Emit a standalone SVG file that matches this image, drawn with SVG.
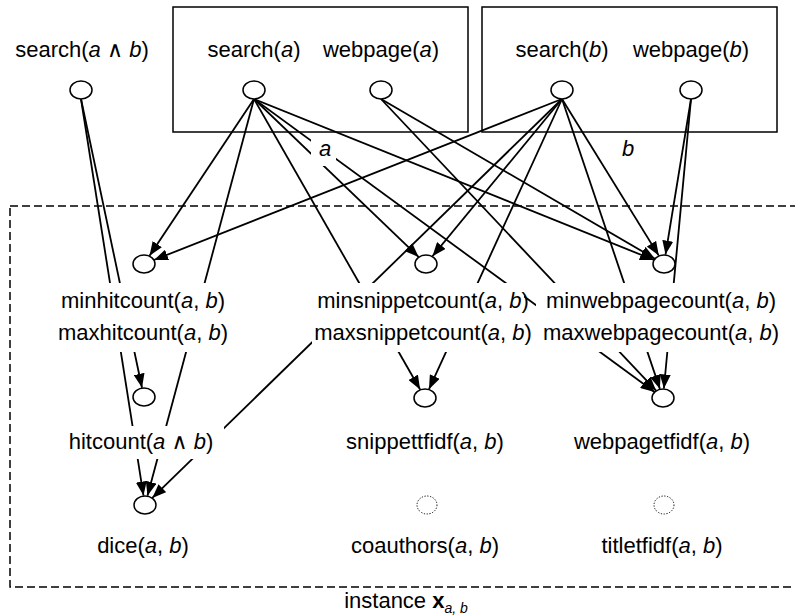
<svg xmlns="http://www.w3.org/2000/svg" width="795" height="616" viewBox="0 0 795 616">
<defs>
<style>
text{font-family:"Liberation Sans",Arial,"DejaVu Sans",sans-serif;font-size:22px;fill:#000;text-anchor:middle}
.i{font-style:italic}
.frame{fill:none;stroke:#000;stroke-width:1.5}
.dash{fill:none;stroke:#000;stroke-width:1.5;stroke-dasharray:8,4}
.node{fill:#fff;stroke:#000;stroke-width:1.5}
.latent{fill:#fff;stroke:#000;stroke-width:1;stroke-dasharray:1.2,1.6}
.bg{fill:#fff;stroke:none}
.edge{fill:none;stroke:#000;stroke-width:1.8;marker-end:url(#arr)}
</style>
<marker id="arr" markerUnits="userSpaceOnUse" markerWidth="14" markerHeight="11" refX="14" refY="5.5" orient="auto"><path d="M0,0 L14,5.5 L0,11 z" fill="#000"/></marker>
</defs>
<rect width="795" height="616" fill="#fff"/>
<g id="frames">
<rect class="frame" x="173" y="7" width="295" height="125"/>
<rect class="frame" x="482" y="7" width="295" height="125"/>
<rect class="dash" x="10" y="206" width="800" height="381"/>
</g>
<g id="connectors">
<line class="edge" x1="81" y1="99" x2="142" y2="387.7"/>
<line class="edge" x1="81" y1="99" x2="143.5" y2="495.6"/>
<line class="edge" x1="254" y1="99" x2="149.5" y2="255.8"/>
<line class="edge" x1="254" y1="99" x2="147.5" y2="495.7"/>
<line class="edge" x1="254" y1="99" x2="418.6" y2="256.9"/>
<line class="edge" x1="254" y1="99" x2="420.1" y2="389.5"/>
<line class="edge" x1="254" y1="99" x2="654.6" y2="391.9"/>
<line class="edge" x1="254" y1="99" x2="654" y2="260"/>
<line class="edge" x1="381" y1="99" x2="654.9" y2="258.7"/>
<line class="edge" x1="381" y1="99" x2="656.1" y2="390.7"/>
<line class="edge" x1="562" y1="99" x2="154" y2="260"/>
<line class="edge" x1="562" y1="99" x2="152.3" y2="497.9"/>
<line class="edge" x1="562" y1="99" x2="432.4" y2="256.3"/>
<line class="edge" x1="562" y1="99" x2="429" y2="389.2"/>
<line class="edge" x1="562" y1="99" x2="658.8" y2="255.6"/>
<line class="edge" x1="562" y1="99" x2="659.9" y2="388.9"/>
<line class="edge" x1="691" y1="99" x2="665.5" y2="254.6"/>
<line class="edge" x1="691" y1="99" x2="663.9" y2="388.5"/>
</g>
<g id="label-a"><rect class="bg" x="311" y="136" width="25" height="30"/><text class="i" x="325" y="156">a</text></g>
<g id="label-b"><text class="i" x="628" y="156">b</text></g>
<g id="search-ab"><ellipse class="node" cx="81" cy="90" rx="11" ry="9"/><text x="82" y="57">search(<tspan class="i">a</tspan> ∧ <tspan class="i">b</tspan>)</text></g>
<g id="search-a"><ellipse class="node" cx="254" cy="90" rx="11" ry="9"/><text x="254" y="57">search(<tspan class="i">a</tspan>)</text></g>
<g id="webpage-a"><ellipse class="node" cx="381" cy="90" rx="11" ry="9"/><text x="381" y="57">webpage(<tspan class="i">a</tspan>)</text></g>
<g id="search-b"><ellipse class="node" cx="562" cy="90" rx="11" ry="9"/><text x="562" y="57">search(<tspan class="i">b</tspan>)</text></g>
<g id="webpage-b"><ellipse class="node" cx="691" cy="90" rx="11" ry="9"/><text x="691" y="57">webpage(<tspan class="i">b</tspan>)</text></g>
<g id="minmaxhitcount"><ellipse class="node" cx="144" cy="264" rx="11" ry="9"/><rect class="bg" x="56" y="283" width="176" height="69"/><text x="143" y="308">minhitcount(<tspan class="i">a</tspan>, <tspan class="i">b</tspan>)</text><text x="143" y="340">maxhitcount(<tspan class="i">a</tspan>, <tspan class="i">b</tspan>)</text></g>
<g id="minmaxsnippetcount"><ellipse class="node" cx="426" cy="264" rx="11" ry="9"/><rect class="bg" x="312" y="283" width="212" height="69"/><text x="423" y="308">minsnippetcount(<tspan class="i">a</tspan>, <tspan class="i">b</tspan>)</text><text x="423" y="340">maxsnippetcount(<tspan class="i">a</tspan>, <tspan class="i">b</tspan>)</text></g>
<g id="minmaxwebpagecount"><ellipse class="node" cx="664" cy="264" rx="11" ry="9"/><rect class="bg" x="536" y="283" width="245" height="69"/><text x="661" y="308">minwebpagecount(<tspan class="i">a</tspan>, <tspan class="i">b</tspan>)</text><text x="661" y="340">maxwebpagecount(<tspan class="i">a</tspan>, <tspan class="i">b</tspan>)</text></g>
<g id="hitcount"><ellipse class="node" cx="144" cy="397" rx="11" ry="9"/><rect class="bg" x="66" y="426" width="158" height="33"/><text x="141" y="449">hitcount(<tspan class="i">a</tspan> ∧ <tspan class="i">b</tspan>)</text></g>
<g id="snippettfidf"><ellipse class="node" cx="425" cy="398" rx="11" ry="9"/><text x="425" y="449">snippettfidf(<tspan class="i">a</tspan>, <tspan class="i">b</tspan>)</text></g>
<g id="webpagetfidf"><ellipse class="node" cx="663" cy="398" rx="11" ry="9"/><text x="662" y="449">webpagetfidf(<tspan class="i">a</tspan>, <tspan class="i">b</tspan>)</text></g>
<g id="dice"><ellipse class="node" cx="145" cy="505" rx="11" ry="9"/><text x="143" y="553">dice(<tspan class="i">a</tspan>, <tspan class="i">b</tspan>)</text></g>
<g id="coauthors"><ellipse class="latent" cx="427" cy="505" rx="10" ry="9"/><text x="425" y="553">coauthors(<tspan class="i">a</tspan>, <tspan class="i">b</tspan>)</text></g>
<g id="titletfidf"><ellipse class="latent" cx="664" cy="505" rx="10" ry="9"/><text x="662" y="553">titletfidf(<tspan class="i">a</tspan>, <tspan class="i">b</tspan>)</text></g>
<g id="instance-label"><text x="406" y="608">instance <tspan font-weight="bold">x</tspan><tspan class="i" font-size="14" dy="5">a, b</tspan></text></g>
</svg>
